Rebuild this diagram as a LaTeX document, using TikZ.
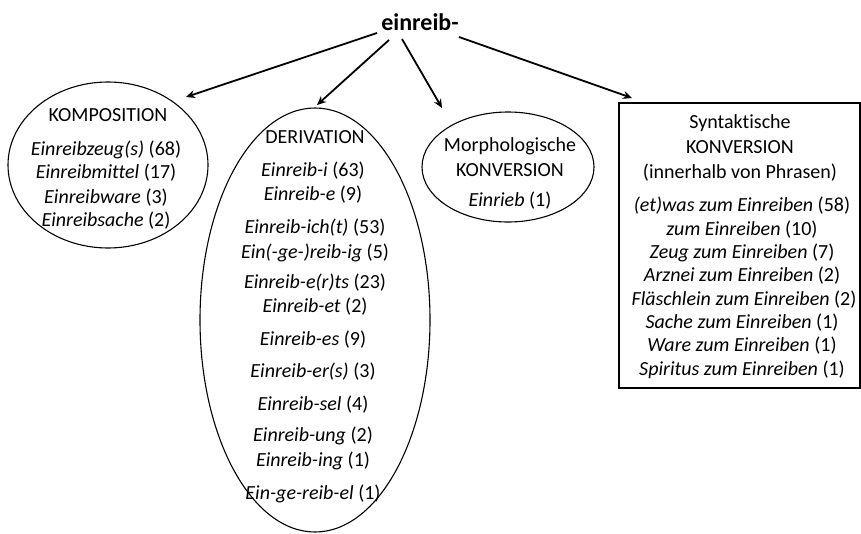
\documentclass[tikz,border=0pt]{standalone}
\usepackage{fontspec}
\setmainfont{Carlito}[Ligatures={NoCommon}]
\usetikzlibrary{arrows.meta,shapes.geometric}
\begin{document}
\begin{tikzpicture}[x=1pt,y=-1pt,
  txt/.style={inner sep=0pt, anchor=base, yshift=-8.5pt, font=\fontsize{20}{24}\selectfont},
  oval/.style={ellipse, draw, line width=1.1pt, inner sep=0pt},
  arr/.style={line width=1.8pt, -{Stealth[length=9pt,width=8pt]}}]
\useasboundingbox (0,0) rectangle (861,533);
\node[inner sep=0pt, anchor=base, yshift=-8pt, font=\fontsize{24}{28}\selectfont\bfseries] (root) at (420,22) {einreib-};
% shapes
\node[oval, minimum width=200pt, minimum height=166pt] (komp) at (108,165) {};
\node[oval, minimum width=230pt, minimum height=424pt] (deri) at (315,320) {};
\node[oval, minimum width=172pt, minimum height=110pt] (morph) at (508,167) {};
\node[draw, line width=1.3pt, minimum width=241pt, minimum height=285pt, inner sep=0pt] (synt) at (739.5,245.5) {};
% arrows
\coordinate (a1s) at (377,33); \coordinate (a1e) at (186,97);
\coordinate (a2s) at (389,40); \coordinate (a2e) at (317,105);
\coordinate (a3s) at (402,39); \coordinate (a3e) at (442,108);
\coordinate (a4s) at (459,37); \coordinate (a4e) at (632,98);
\draw[arr] (a1s) -- (a1e);
\draw[arr] (a2s) -- (a2e);
\draw[arr] (a3s) -- (a3e);
\draw[arr] (a4s) -- (a4e);
% KOMPOSITION
\node[txt] (k0) at (108,113) {KOMPOSITION};
\node[txt] (k1) at (106,147) {\textit{Einreibzeug(s)} (68)};
\node[txt] (k2) at (106,170) {\textit{Einreibmittel} (17)};
\node[txt] (k3) at (106,195) {\textit{Einreibware} (3)};
\node[txt] (k4) at (106,218) {\textit{Einreibsache} (2)};
% DERIVATION
\node[txt] (d0) at (315,135) {DERIVATION};
\node[txt] (d1) at (313,168) {\textit{Einreib-i} (63)};
\node[txt] (d2) at (313,192) {\textit{Einreib-e} (9)};
\node[txt] (d3) at (315,225) {\textit{Einreib-ich(t)} (53)};
\node[txt] (d4) at (315,250) {\textit{Ein(-ge-)reib-ig} (5)};
\node[txt] (d5) at (315,280) {\textit{Einreib-e(r)ts} (23)};
\node[txt] (d6) at (315,304) {\textit{Einreib-et} (2)};
\node[txt] (d7) at (313,337) {\textit{Einreib-es} (9)};
\node[txt] (d8) at (313,369) {\textit{Einreib-er(s)} (3)};
\node[txt] (d9) at (313,402) {\textit{Einreib-sel} (4)};
\node[txt] (d10) at (313,433) {\textit{Einreib-ung} (2)};
\node[txt] (d11) at (313,458) {\textit{Einreib-ing} (1)};
\node[txt] (d12) at (313,491) {\textit{Ein-ge-reib-el} (1)};
% Morphologische
\node[txt] (m0) at (510,143) {Morphologische};
\node[txt] (m1) at (510,168) {KONVERSION};
\node[txt] (m2) at (510,198) {\textit{Einrieb} (1)};
% Syntaktische
\node[txt] (s0) at (740,120) {Syntaktische};
\node[txt] (s1) at (740,145) {KONVERSION};
\node[txt] (s2) at (740,170) {(innerhalb von Phrasen)};
\node[txt] (s3) at (742,203) {\textit{(et)was zum Einreiben} (58)};
\node[txt] (s4) at (742,227) {\textit{zum Einreiben} (10)};
\node[txt] (s5) at (742,250) {\textit{Zeug zum Einreiben} (7)};
\node[txt] (s6) at (742,273) {\textit{Arznei zum Einreiben} (2)};
\node[txt] (s7) at (744,297) {\textit{Fläschlein zum Einreiben} (2)};
\node[txt] (s8) at (742,320) {\textit{Sache zum Einreiben} (1)};
\node[txt] (s9) at (742,343) {\textit{Ware zum Einreiben} (1)};
\node[txt] (s10) at (742,367) {\textit{Spiritus zum Einreiben} (1)};
\end{tikzpicture}
\end{document}
